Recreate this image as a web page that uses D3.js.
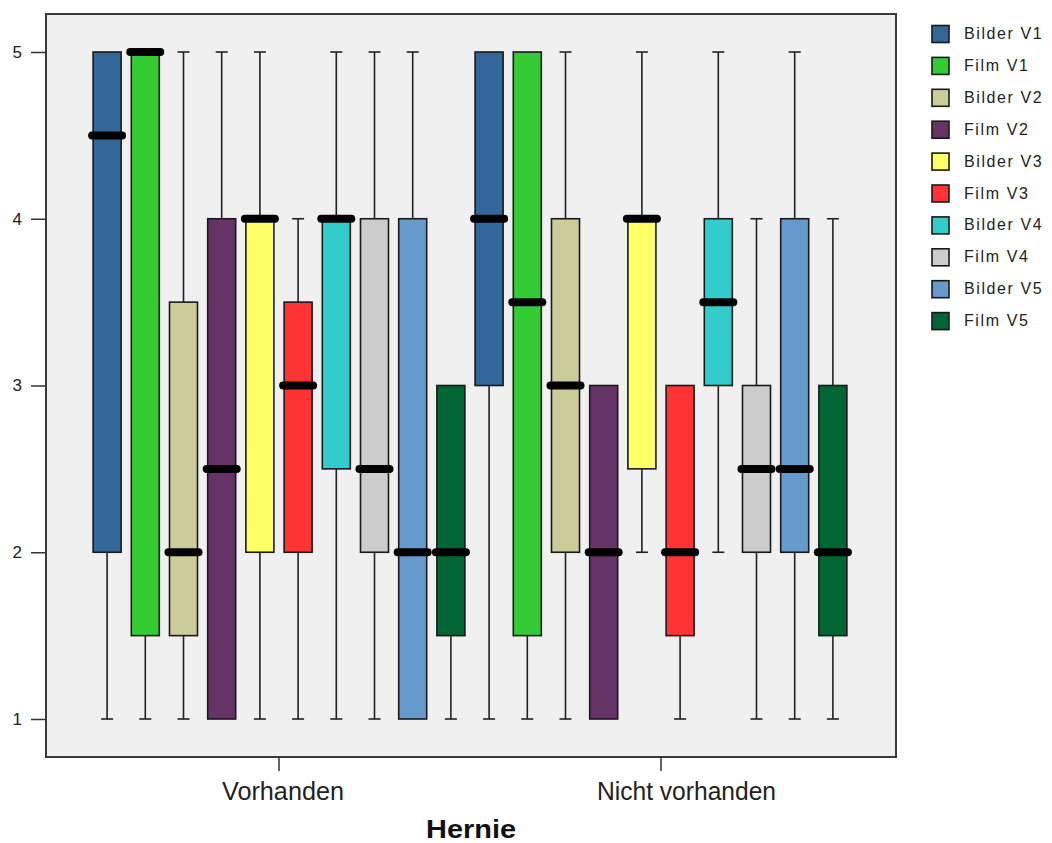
<!DOCTYPE html>
<html><head><meta charset="utf-8">
<script src="https://cdn.jsdelivr.net/npm/d3@7"></script>
<style>
html,body{margin:0;padding:0;background:#fff;}
svg{display:block;}
text{font-family:"Liberation Sans",Arial,sans-serif;}
</style></head>
<body>
<svg id="chart" width="1052" height="843"></svg>
<script>
// ---- data ----
const groups = ["Vorhanden", "Nicht vorhanden"];
const series = ["Bilder V1","Film V1","Bilder V2","Film V2","Bilder V3","Film V3","Bilder V4","Film V4","Bilder V5","Film V5"];
const colors = ["#336699","#33cc33","#cccc99","#663366","#ffff66","#ff3333","#33cccc","#cccccc","#6699cc","#006633"];
// per group: arrays indexed by series
const whiskerLow  = [[1,1,1,1,1,1,1,1,1,1],[1,1,1,1,2,1,2,1,1,1]];
const q1          = [[2,1.5,1.5,1,2,2,2.5,2,1,1.5],[3,1.5,2,1,2.5,1.5,3,2,2,1.5]];
const medians     = [[4.5,5,2,2.5,4,3,4,2.5,2,2],[4,3.5,3,2,4,2,3.5,2.5,2.5,2]];
const q3          = [[5,5,3.5,4,4,3.5,4,4,4,3],[5,5,4,3,4,3,4,3,4,3]];
const whiskerHigh = [[5,5,5,5,5,4,5,5,5,3],[5,5,5,3,5,3,5,4,5,4]];
const yTicks = [1,2,3,4,5];
const xTitle = "Hernie";

// ---- layout ----
const svg = d3.select("#chart");
const plot = {left:46, right:896, top:14, bottom:757};
const y = d3.scaleLinear().domain([1,5]).range([719,52]);
const x0 = d3.scaleBand().domain(groups).range([88,852]).padding(0);
const x1 = d3.scaleBand().domain(series).range([0,x0.bandwidth()]).padding(0);
const boxW = 28, capW = 12, medHalf = 15;

svg.append("rect").attr("x",plot.left).attr("y",plot.top)
  .attr("width",plot.right-plot.left).attr("height",plot.bottom-plot.top)
  .attr("fill","#f0f0f0").attr("stroke","#3a3a3a").attr("stroke-width",2);

// y axis
const yAxis = d3.axisLeft(y).tickValues(yTicks).tickSize(15).tickPadding(9).tickFormat(d3.format("d"));
const ya = svg.append("g").attr("transform",`translate(${plot.left},0)`).call(yAxis);
ya.select(".domain").remove();
ya.selectAll("line").attr("stroke","#333").attr("stroke-width",1.5);
ya.selectAll("text").attr("font-size",17).attr("fill","#222").attr("font-family","Liberation Sans, Arial, sans-serif");

// x axis
const xAxis = d3.axisBottom(x0).tickSize(14).tickFormat("");
const xa = svg.append("g").attr("transform",`translate(0,${plot.bottom})`).call(xAxis);
xa.select(".domain").remove();
xa.selectAll("line").attr("stroke","#333").attr("stroke-width",1.5);
const xLabelWidth = [122,179], xLabelShift = [-57,-64];
groups.forEach((g,i)=>{
  svg.append("text").attr("x",x0(g)+x0.bandwidth()/2+xLabelShift[i]).attr("y",800)
    .attr("font-size",25).attr("fill","#222")
    .attr("textLength",xLabelWidth[i]).attr("lengthAdjust","spacingAndGlyphs")
    .text(g);
});
svg.append("text").attr("x",(plot.left+plot.right)/2).attr("y",838)
  .attr("text-anchor","middle").attr("font-size",25).attr("font-weight","bold").attr("fill","#111")
  .attr("textLength",90).attr("lengthAdjust","spacingAndGlyphs").text(xTitle);

// boxes
groups.forEach((g,gi)=>{
  const gg = svg.append("g");
  series.forEach((s,si)=>{
    const cx = x0(g)+x1(s)+x1.bandwidth()/2;
    const lo=whiskerLow[gi][si], hi=whiskerHigh[gi][si], a=q1[gi][si], b=q3[gi][si], m=medians[gi][si];
    const ln = (x1_,y1_,x2_,y2_)=>gg.append("line").attr("x1",x1_).attr("y1",y1_).attr("x2",x2_).attr("y2",y2_)
      .attr("stroke","#222").attr("stroke-width",1.6);
    if(hi>b){ ln(cx,y(hi),cx,y(b)); ln(cx-capW/2,y(hi),cx+capW/2,y(hi)); }
    if(lo<a){ ln(cx,y(lo),cx,y(a)); ln(cx-capW/2,y(lo),cx+capW/2,y(lo)); }
    gg.append("rect").attr("x",cx-boxW/2).attr("y",y(b)).attr("width",boxW).attr("height",y(a)-y(b))
      .attr("fill",colors[si]).attr("stroke","#1a1a1a").attr("stroke-width",1.6);
  });
  series.forEach((s,si)=>{
    const cx = x0(g)+x1(s)+x1.bandwidth()/2;
    gg.append("line").attr("x1",cx-medHalf).attr("x2",cx+medHalf)
      .attr("y1",y(medians[gi][si])).attr("y2",y(medians[gi][si]))
      .attr("stroke","#000").attr("stroke-width",8).attr("stroke-linecap","round");
  });
});

// legend
const leg = svg.append("g");
series.forEach((s,i)=>{
  const ly = 34 + i*31.9;
  leg.append("rect").attr("x",932).attr("y",ly-8.5).attr("width",17).attr("height",17)
    .attr("fill",colors[i]).attr("stroke","#1a1a1a").attr("stroke-width",1.6);
  leg.append("text").attr("x",964).attr("y",ly+5).attr("font-size",16).attr("fill","#222")
    .attr("letter-spacing",1.6).text(s);
});
</script>
</body></html>
